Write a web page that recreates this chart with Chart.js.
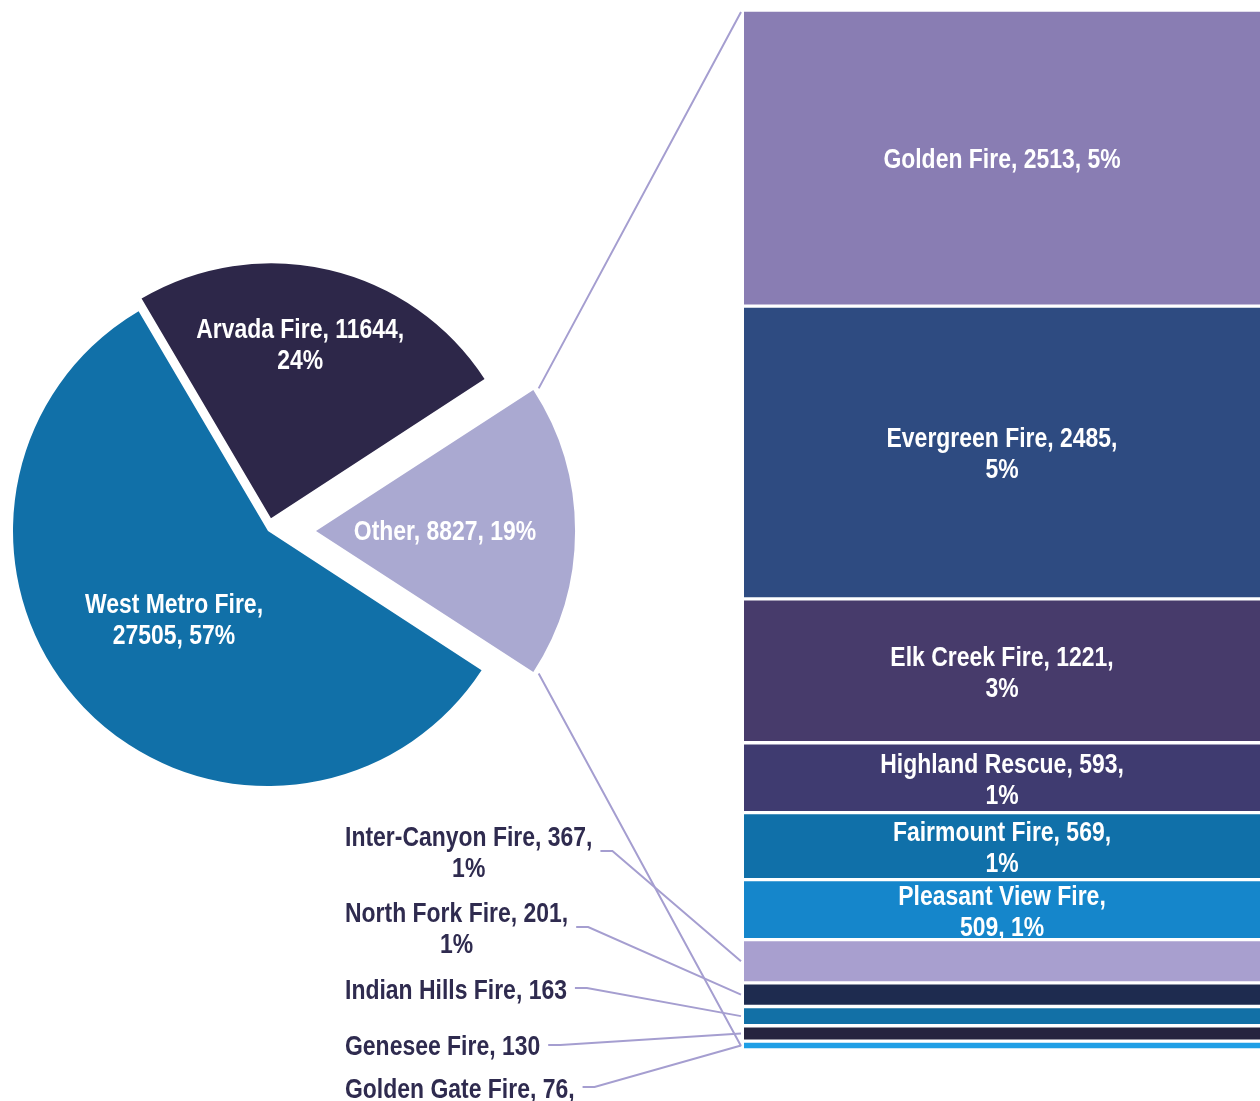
<!DOCTYPE html>
<html>
<head>
<meta charset="utf-8">
<script src="https://cdn.jsdelivr.net/npm/chart.js@4.4.1/dist/chart.umd.min.js"></script>
<style>
html, body { margin: 0; padding: 0; background: #fff; overflow: hidden; }
#wrap { position: relative; width: 1260px; height: 1101px; }
#wrap canvas { position: absolute; left: 0; top: 0; }
</style>
</head>
<body>
<div id="wrap">
    <canvas id="pieChart" width="1260" height="1101"></canvas>
    <canvas id="barChart" width="1260" height="1101"></canvas>
</div>
<script>
// pie: main departments plus "Other"
const pieNames = ['Other', 'West Metro Fire', 'Arvada Fire'];
const pieValues = [8827, 27505, 11644];
const piePcts = ['19%', '57%', '24%'];
const pieColors = ['#aaa9d1', '#1170a8', '#2d2749'];

// bar: breakdown of "Other"
const otherNames = ['Golden Fire', 'Evergreen Fire', 'Elk Creek Fire', 'Highland Rescue',
    'Fairmount Fire', 'Pleasant View Fire', 'Inter-Canyon Fire', 'North Fork Fire',
    'Indian Hills Fire', 'Genesee Fire', 'Golden Gate Fire'];
const otherValues = [2513, 2485, 1221, 593, 569, 509, 367, 201, 163, 130, 76];
const otherPcts = ['5%', '5%', '3%', '1%', '1%', '1%', '1%', '1%', '', '', '0%'];
const otherColors = ['#897db3', '#2e4b81', '#473b6b', '#3f3b70', '#1070a9', '#1586cb',
    '#a89fcf', '#1e2b4f', '#1270a6', '#26243f', '#1f9fe6'];

// no narrow font installed, so squeeze a normal bold sans horizontally
const FONT = "bold 27px 'Liberation Sans', Arial, sans-serif";
const SQUEEZE = 0.85;
const LINE_H = 31;
const TEXT_DY = 3;
const LEADER = '#a59ed0';
const DARK_TEXT = '#2f2b4f';

// layout of labels placed outside the bar
const outLeft = 345;
const outFirstY = [836, 912, 989, 1045, 1088];
const outAnchorY = [851, 927, 988, 1045, 1087];
const pieLabelFrac = [0.49, 0.51, 0.69];
const pieLabelDx = [0, 0, -11];
const pieLabelDy = [-1, -3, -4];

function labelText(name, value, pct) {
    return name + ', ' + value + (pct ? ', ' + pct : '');
}

function textW(ctx, t) {
    return ctx.measureText(t).width * SQUEEZE;
}

function narrowText(ctx, t, x, y) {
    ctx.save();
    ctx.translate(x, y + TEXT_DY);
    ctx.scale(SQUEEZE, 1);
    ctx.fillText(t, 0, 0);
    ctx.restore();
}

function wrapText(ctx, text, maxWidth) {
    const words = text.split(' ');
    const lines = [];
    let line = '';
    words.forEach(w => {
        const test = line ? line + ' ' + w : w;
        if (line && textW(ctx, test) > maxWidth) {
            lines.push(line);
            line = w;
        } else {
            line = test;
        }
    });
    if (line) lines.push(line);
    return lines;
}

function drawLines(ctx, lines, cx, cy) {
    const y0 = cy - (lines.length - 1) * LINE_H / 2;
    lines.forEach((l, i) => narrowText(ctx, l, cx, y0 + i * LINE_H));
}

// same shift that Chart.js v4 applies to an offset arc
function arcShift(arc) {
    const p = arc.getProps(['x', 'y', 'startAngle', 'endAngle', 'outerRadius', 'circumference']);
    const offset = (arc.options.offset || 0) / 4;
    const fix = 1 - Math.sin(Math.min(Math.PI, p.circumference || 0));
    const d = offset + offset * fix;
    const mid = (p.startAngle + p.endAngle) / 2;
    return {
        x: p.x + Math.cos(mid) * d,
        y: p.y + Math.sin(mid) * d,
        mid: mid,
        start: p.startAngle,
        end: p.endAngle,
        r: p.outerRadius
    };
}

const pieLabels = {
    id: 'pieLabels',
    afterDatasetsDraw(chart) {
        const ctx = chart.ctx;
        ctx.save();
        ctx.font = FONT;
        ctx.fillStyle = '#fff';
        ctx.textAlign = 'center';
        ctx.textBaseline = 'middle';
        chart.getDatasetMeta(0).data.forEach((arc, i) => {
            const a = arcShift(arc);
            const f = pieLabelFrac[i] * a.r;
            const lines = wrapText(ctx, labelText(pieNames[i], pieValues[i], piePcts[i]), 215);
            drawLines(ctx, lines,
                a.x + Math.cos(a.mid) * f + pieLabelDx[i],
                a.y + Math.sin(a.mid) * f + pieLabelDy[i]);
        });
        ctx.restore();
    }
};

const barLabels = {
    id: 'barLabels',
    afterDatasetsDraw(chart) {
        const ctx = chart.ctx;
        const area = chart.chartArea;
        const barLeft = area.left - 3;
        ctx.save();
        ctx.font = FONT;
        ctx.textBaseline = 'middle';
        ctx.lineWidth = 2;
        ctx.strokeStyle = LEADER;

        // connector lines from the "Other" slice to the bar
        const pie = Chart.getChart('pieChart');
        if (pie) {
            const a = arcShift(pie.getDatasetMeta(0).data[0]);
            const rr = a.r + 6;
            ctx.beginPath();
            ctx.moveTo(a.x + Math.cos(a.start) * rr, a.y + Math.sin(a.start) * rr);
            ctx.lineTo(barLeft, area.top + 2);
            ctx.moveTo(a.x + Math.cos(a.end) * rr, a.y + Math.sin(a.end) * rr);
            ctx.lineTo(barLeft, area.bottom - 4);
            ctx.stroke();
        }

        let k = 0;
        otherNames.forEach((name, i) => {
            const bar = chart.getDatasetMeta(i).data[0];
            const p = bar.getProps(['x', 'y', 'base']);
            const midY = (p.y + p.base) / 2;
            const h = Math.abs(p.base - p.y);
            const text = labelText(name, otherValues[i], otherPcts[i]);
            const lines = wrapText(ctx, text, 250);
            ctx.textAlign = 'center';
            if (h > 50) {
                ctx.fillStyle = '#fff';
                drawLines(ctx, lines, p.x, midY);
            } else {
                const w = Math.max(...lines.map(l => textW(ctx, l)));
                const cx = outLeft + w / 2;
                ctx.fillStyle = DARK_TEXT;
                lines.forEach((l, j) => narrowText(ctx, l, cx, outFirstY[k] + j * LINE_H));
                const sx = outLeft + w + 8;
                ctx.beginPath();
                ctx.moveTo(sx, outAnchorY[k]);
                ctx.lineTo(sx + 12, outAnchorY[k]);
                ctx.lineTo(barLeft, midY);
                ctx.stroke();
                k++;
            }
        });
        ctx.restore();
    }
};

const otherShare = 360 * pieValues[0] / pieValues.reduce((s, v) => s + v, 0);

new Chart(document.getElementById('pieChart'), {
    type: 'pie',
    data: {
        labels: pieNames,
        datasets: [{
            data: pieValues,
            backgroundColor: pieColors,
            borderWidth: 0,
            offset: [192, 0, 52],
            hoverOffset: 0,
            clip: false
        }]
    },
    options: {
        responsive: false,
        animation: false,
        events: [],
        rotation: 90 - otherShare / 2,
        radius: 255,
        layout: { padding: { left: 0, top: 0, right: 724, bottom: 39 } },
        plugins: { legend: { display: false }, tooltip: { enabled: false } }
    },
    plugins: [pieLabels]
});

const otherTotal = otherValues.reduce((s, v) => s + v, 0);

new Chart(document.getElementById('barChart'), {
    type: 'bar',
    data: {
        labels: ['Other'],
        datasets: otherNames.map((name, i) => ({
            label: name,
            data: [otherValues[i]],
            backgroundColor: otherColors[i],
            borderColor: '#fff',
            borderWidth: { top: 2, bottom: 2, left: 0, right: 0 },
            borderSkipped: false,
            barPercentage: 1,
            categoryPercentage: 1
        }))
    },
    options: {
        responsive: false,
        animation: false,
        events: [],
        layout: { padding: { left: 744, right: 0, top: 10, bottom: 51 } },
        scales: {
            x: { display: false, stacked: true },
            y: { display: false, stacked: true, reverse: true, min: 0, max: otherTotal }
        },
        plugins: { legend: { display: false }, tooltip: { enabled: false } }
    },
    plugins: [barLabels]
});
</script>
</body>
</html>
